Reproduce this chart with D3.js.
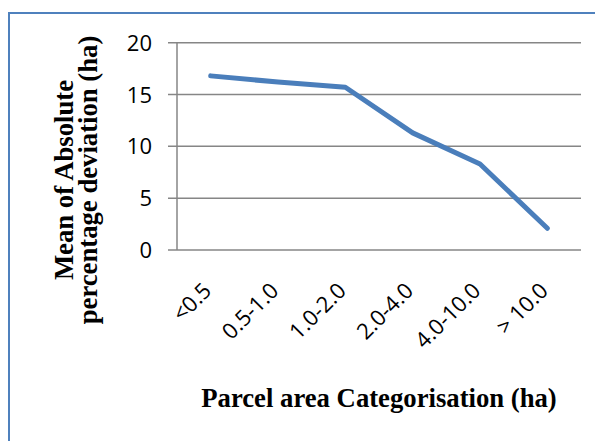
<!DOCTYPE html>
<html><head><meta charset="utf-8">
<script src="https://cdn.jsdelivr.net/npm/d3@7"></script>
<style>html,body{margin:0;padding:0;background:#fff;}</style>
</head><body>
<svg id="chart" width="595" height="441"></svg>
<script>
const categories = ["<0.5", "0.5-1.0", "1.0-2.0", "2.0-4.0", "4.0-10.0", "> 10.0"];
const values = [16.8, 16.2, 15.7, 11.3, 8.3, 2.1];
const yTicks = [0, 5, 10, 15, 20];
const xTitle = "Parcel area Categorisation (ha)";
const yTitleLines = ["Mean of Absolute", "percentage deviation (ha)"];

(function () {
const svg = d3.select("#chart");
svg.append("rect").attr("x", 0).attr("y", 0).attr("width", 595).attr("height", 441).attr("fill", "#fff");
svg.append("rect").attr("x", 9).attr("y", 13).attr("width", 600).attr("height", 450)
  .attr("fill", "none").attr("stroke", "#4f81bd").attr("stroke-width", 2);

const pLeft = 177, pRight = 581, pTop = 42.7, pBottom = 250;
const x = d3.scaleBand().domain(categories).range([pLeft, pRight]);
const y = d3.scaleLinear().domain([0, 20]).range([pBottom, pTop]);

const yAxis = d3.axisLeft(y).tickValues(yTicks).tickSize(0).tickPadding(0);
const gy = svg.append("g");
gy.selectAll("line.grid").data(yTicks).join("line")
  .attr("x1", pLeft - 9).attr("x2", pRight).attr("y1", d => y(d)).attr("y2", d => y(d))
  .attr("stroke", "#868686").attr("stroke-width", 1.5);
svg.append("line").attr("x1", pLeft).attr("x2", pLeft).attr("y1", pTop).attr("y2", pBottom)
  .attr("stroke", "#868686").attr("stroke-width", 1.5);
const ga = svg.append("g").attr("transform", `translate(${pLeft - 25},0)`).call(yAxis);
ga.select(".domain").remove();
ga.selectAll("text").attr("font-family", "'Open Sans', sans-serif").attr("font-size", 22)
  .attr("fill", "#000").attr("dy", "0.34em");

const xAxis = d3.axisBottom(x).tickSize(0).tickPadding(0);
const gx = svg.append("g").attr("transform", `translate(0,${pBottom})`).call(xAxis);
gx.select(".domain").remove();
gx.selectAll("text").attr("font-family", "'Open Sans', sans-serif").attr("font-size", 22)
  .attr("fill", "#000").attr("text-anchor", "end").attr("dy", 0)
  .attr("transform", "translate(2,42) rotate(-45)").attr("y", 0).attr("x", 0);

const line = d3.line().x((d, i) => x(categories[i]) + x.bandwidth() / 2).y(d => y(d));
svg.append("path").datum(values).attr("d", line).attr("fill", "none")
  .attr("stroke", "#4a7ebb").attr("stroke-width", 5).attr("stroke-linecap", "round").attr("stroke-linejoin", "round");

svg.append("text").attr("x", (pLeft + pRight) / 2).attr("y", 406.5).attr("text-anchor", "middle")
  .attr("font-family", "'Liberation Serif', 'Times New Roman', serif").attr("font-weight", "bold")
  .attr("font-size", 26.7).attr("fill", "#000").text(xTitle);

const yt = svg.append("text").attr("transform", "translate(0,180) rotate(-90)")
  .attr("text-anchor", "middle").attr("font-family", "'Liberation Serif', 'Times New Roman', serif")
  .attr("font-weight", "bold").attr("font-size", 26.7).attr("fill", "#000");
yt.selectAll("tspan").data(yTitleLines).join("tspan").attr("x", 0).attr("y", (d, i) => 73.3 + i * 23.5).text(d => d);
})();
</script>
</body></html>
